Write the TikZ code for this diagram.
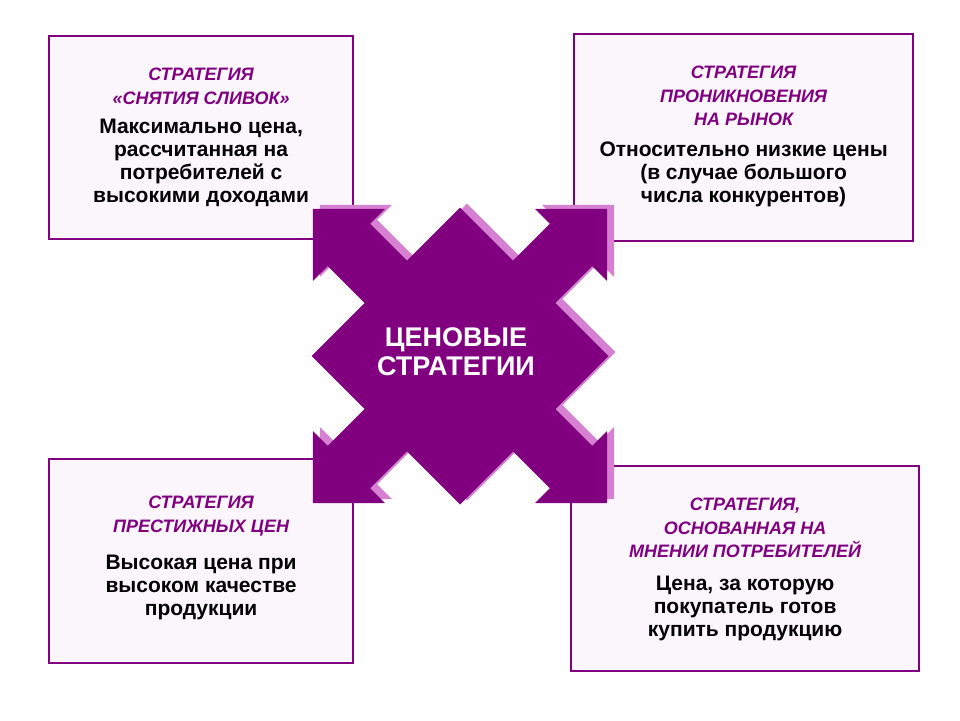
\documentclass[tikz,border=0pt]{standalone}
\usepackage{fontspec}
\setmainfont{Liberation Sans}
\usetikzlibrary{positioning}
\definecolor{plum}{RGB}{128,0,128}
\definecolor{orchid}{RGB}{214,128,210}
\definecolor{lavender}{RGB}{250,246,252}
\tikzset{every picture/.style={line width=0.75pt}}
\tikzset{
  box/.style={draw=plum,line width=2.2pt,fill=lavender,anchor=north west,inner sep=0pt},
  title/.style={text=plum,font=\fontsize{18}{23.5}\selectfont\bfseries\itshape,align=center,inner sep=0pt},
  body/.style={text=black,font=\fontsize{21}{23}\selectfont\bfseries,align=center,inner sep=0pt}
}
\newcommand\crossshape{(105,-30) -- (157,-30) -- (157,-51) -- (208,0) -- (157,51) -- (157,30) -- (105,30) -- (105,105)
  -- (30,105) -- (30,157) -- (51,157) -- (0,208) -- (-51,157) -- (-30,157) -- (-30,105) -- (-105,105)
  -- (-105,30) -- (-157,30) -- (-157,51) -- (-208,0) -- (-157,-51) -- (-157,-30) -- (-105,-30) -- (-105,-105)
  -- (-30,-105) -- (-30,-157) -- (-51,-157) -- (0,-208) -- (51,-157) -- (30,-157) -- (30,-105) -- (105,-105) -- cycle}

\begin{document}
\begin{tikzpicture}[x=1pt,y=1pt,yscale=-1]
\useasboundingbox (0,0) rectangle (960,720);

% boxes
\node[box,minimum width=304pt,minimum height=203pt] (tl) at (48,35) {};
\node[box,minimum width=339pt,minimum height=207pt] (tr) at (573,33) {};
\node[box,minimum width=304pt,minimum height=204pt] (bl) at (48,458) {};
\node[box,minimum width=348pt,minimum height=205pt] (br) at (570,465) {};

% cross with shadow
\begin{scope}[shift={(467,352)},rotate=45]
  \fill[orchid] \crossshape;
\end{scope}
\begin{scope}[shift={(460,356)},rotate=45]
  \fill[plum] \crossshape;
\end{scope}
\node[text=white,font=\fontsize{27}{29}\selectfont\bfseries,align=center] (centre) at (456,352) {ЦЕНОВЫЕ\\СТРАТЕГИИ};

% texts
\node[title,below=33pt of tl.north] (tltitle) {СТРАТЕГИЯ\\«СНЯТИЯ СЛИВОК»};
\node[body,below=14pt of tltitle] (tlbody) {Максимально цена,\\рассчитанная на\\потребителей с\\высокими доходами};
\node[title,below=33pt of tr.north] (trtitle) {СТРАТЕГИЯ\\ПРОНИКНОВЕНИЯ\\НА РЫНОК};
\node[body,below=15pt of trtitle] (trbody) {Относительно низкие цены\\(в случае большого\\числа конкурентов)};
\node[title,below=38pt of bl.north] (bltitle) {СТРАТЕГИЯ\\ПРЕСТИЖНЫХ ЦЕН};
\node[body,below=18pt of bltitle] (blbody) {Высокая цена при\\высоком качестве\\продукции};
\node[title,below=33pt of br.north] (brtitle) {СТРАТЕГИЯ,\\ОСНОВАННАЯ НА\\МНЕНИИ ПОТРЕБИТЕЛЕЙ};
\node[body,below=17pt of brtitle] (brbody) {Цена, за которую\\покупатель готов\\купить продукцию};
\end{tikzpicture}
\end{document}
